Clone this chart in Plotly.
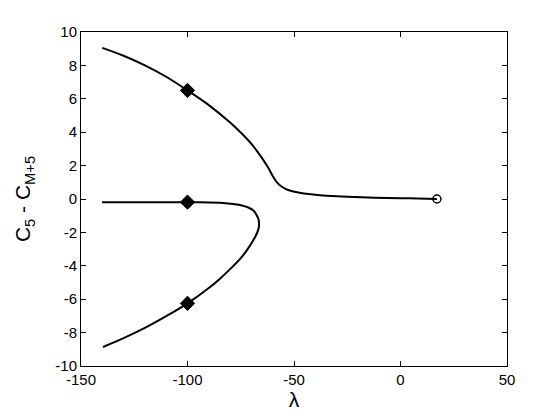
import plotly.graph_objects as go

# Upper branch
upper_x = [-140.0, -130.0, -120.0, -110.0, -100.0, -90.0, -80.0, -75.0, -70.0, -65.0,
           -62.0, -60.0, -58.0, -56.0, -54.0, -52.0, -48.0, -42.0, -35.0, -25.0,
           -12.0, 0.0, 8.0, 17.1]
upper_y = [9.05, 8.58, 8.0, 7.32, 6.5, 5.62, 4.58, 3.98, 3.3, 2.45,
           1.85, 1.38, 1.0, 0.76, 0.61, 0.51, 0.39, 0.28, 0.2, 0.13,
           0.08, 0.05, 0.03, 0.0]

# Middle / lower branch (one curve folding at about lambda = -66)
fold_x = [-140.1, -120.0, -100.0, -94.1, -83.3, -78.6, -74.0, -72.0, -70.7, -69.3,
          -68.3, -67.4, -66.7, -66.4, -66.6, -67.4, -69.5, -72.0, -75.4, -80.0,
          -85.0, -90.0, -100.0, -110.0, -120.0, -130.0, -139.7]
fold_y = [-0.2, -0.19, -0.19, -0.2, -0.24, -0.3, -0.4, -0.48, -0.56, -0.66,
          -0.8, -1.0, -1.2, -1.45, -1.75, -2.05, -2.55, -3.05, -3.6, -4.2,
          -4.8, -5.33, -6.25, -7.02, -7.72, -8.33, -8.86]

# Markers
diamond_x = [-100, -100, -100]
diamond_y = [6.5, -0.19, -6.25]
circle_x = [17.1]
circle_y = [0.0]

x_ticks = [-150, -100, -50, 0, 50]
y_ticks = [-10, -8, -6, -4, -2, 0, 2, 4, 6, 8, 10]

fig = go.Figure()
fig.add_trace(go.Scatter(x=upper_x, y=upper_y, mode="lines",
                         line=dict(color="black", width=2, shape="spline", smoothing=0.6),
                         showlegend=False, hoverinfo="skip"))
fig.add_trace(go.Scatter(x=fold_x, y=fold_y, mode="lines",
                         line=dict(color="black", width=2, shape="spline", smoothing=0.6),
                         showlegend=False, hoverinfo="skip"))
fig.add_trace(go.Scatter(x=diamond_x, y=diamond_y, mode="markers",
                         marker=dict(symbol="diamond", size=11, color="black",
                                     line=dict(color="black", width=1)),
                         showlegend=False))
fig.add_trace(go.Scatter(x=circle_x, y=circle_y, mode="markers",
                         marker=dict(symbol="circle-open", size=8, color="black",
                                     line=dict(color="black", width=1.5)),
                         showlegend=False))

font_family = "Liberation Sans, Arial, Helvetica, sans-serif"
fig.update_layout(
    width=560, height=420,
    margin=dict(l=73, r=61, t=24, b=62),
    paper_bgcolor="white", plot_bgcolor="white",
    font=dict(family=font_family, color="black", size=15),
    xaxis=dict(range=[-150, 50], tickvals=x_ticks, ticktext=[str(v) for v in x_ticks],
               ticks="inside", ticklen=5, tickcolor="black", mirror="ticks",
               showline=True, linecolor="black", linewidth=1, showgrid=False, zeroline=False,
               title=dict(text="λ", font=dict(size=21), standoff=4)),
    yaxis=dict(range=[-10, 10], tickvals=y_ticks, ticktext=[str(v) for v in y_ticks],
               ticks="inside", ticklen=5, tickcolor="black", mirror="ticks",
               showline=True, linecolor="black", linewidth=1, showgrid=False, zeroline=False,
               title=dict(text="C<sub>5</sub> - C<sub>M+5</sub>", font=dict(size=21), standoff=18)),
)

fig.write_html("out.html")
